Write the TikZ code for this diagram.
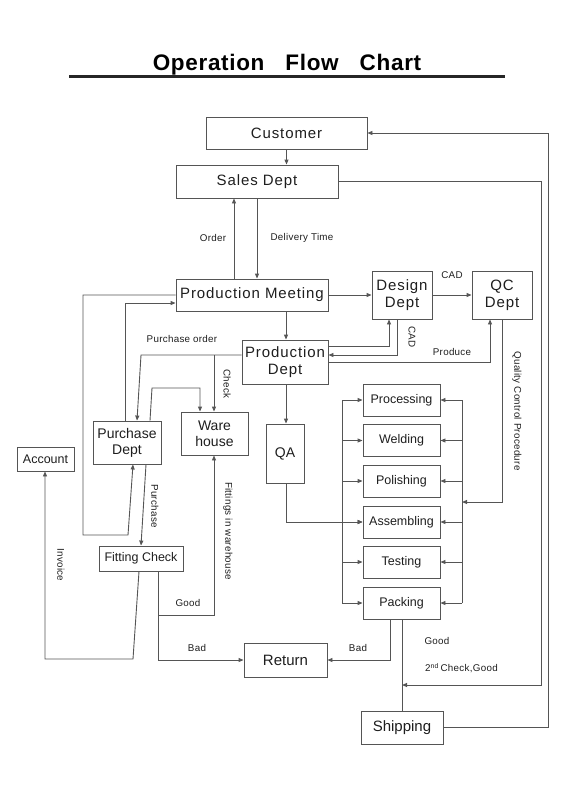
\documentclass[tikz,border=0pt]{standalone}
\usepackage{fontspec}
\setmainfont{Liberation Sans}
\newfontfamily\wideA{Liberation Sans}[LetterSpace=6]
\newfontfamily\wideB{Liberation Sans}[LetterSpace=3]
\usetikzlibrary{arrows.meta}
\definecolor{ln}{HTML}{555555}
\definecolor{tx}{HTML}{1E1E1E}
\tikzset{
  box/.style={draw=ln, line width=0.9pt, inner sep=0pt, align=center, text=tx, font=\fontsize{15}{16}\selectfont},
  wbox/.style={box, font=\wideA\fontsize{15}{17}\selectfont},
  sbox/.style={box, font=\fontsize{12.5}{14}\selectfont},
  conn/.style={draw=ln, line width=0.9pt},
  arr/.style={conn, -{Triangle[length=5pt,width=4pt]}},
  lbl/.style={text=tx, inner sep=0pt, font=\wideB\fontsize{9.8}{11}\selectfont},
}
\begin{document}
\begin{tikzpicture}[x=1pt,y=-1pt]
\useasboundingbox (0,0) rectangle (566,800);
% title
\node[inner sep=0pt, anchor=base, font=\wideB\fontsize{22.5}{25}\selectfont\bfseries] (title) at (287,70.5) {Operation\hspace{21pt}Flow\hspace{21pt}Chart};
\draw[line width=2.2pt, black!85] (69,76.5) -- (505,76.5);
% boxes
\node[wbox, minimum width=161, minimum height=32] (cust) at (286.5,133) {Customer};
\node[wbox, minimum width=162, minimum height=33] (sales) at (257,181.5) {Sales Dept};
\node[wbox, minimum width=152, minimum height=32] (pm) at (252,295) {Production Meeting};
\node[wbox, minimum width=60, minimum height=48] (design) at (402,295) {Design\\Dept};
\node[wbox, minimum width=60, minimum height=48] (qc) at (502,295) {QC\\Dept};
\node[wbox, minimum width=86, minimum height=44] (prod) at (285,362) {Production\\Dept};
\node[box, minimum width=68, minimum height=43, font=\fontsize{14}{16}\selectfont] (purch) at (127,442.5) {Purchase\\Dept};
\node[box, minimum width=67, minimum height=43, font=\fontsize{14}{16}\selectfont] (ware) at (214.5,433.5) {Ware\\house};
\node[box, minimum width=38, minimum height=59, font=\fontsize{14}{16}\selectfont] (qa) at (285,453.5) {QA};
\node[sbox, minimum width=57, minimum height=24] (acct) at (45.5,459) {Account};
\node[sbox, minimum width=84, minimum height=25] (fit) at (141,558.5) {Fitting Check};
\node[sbox, minimum width=77, minimum height=32] (proc) at (401.5,400) {Processing};
\node[sbox, minimum width=77, minimum height=32] (weld) at (401.5,440.5) {Welding};
\node[sbox, minimum width=77, minimum height=32] (pol) at (401.5,481) {Polishing};
\node[sbox, minimum width=77, minimum height=32] (assem) at (401.5,522) {Assembling};
\node[sbox, minimum width=77, minimum height=32] (test) at (401.5,562) {Testing};
\node[sbox, minimum width=77, minimum height=32] (pack) at (401.5,603) {Packing};
\node[box, minimum width=83, minimum height=34] (ret) at (285.5,660) {Return};
\node[box, minimum width=82, minimum height=33] (ship) at (402,727.5) {Shipping};
% connectors
\draw[arr] (cust.south) -- (sales.north -| cust.south);
\draw[arr] (pm.north -| 234,0) -- (sales.south -| 234,0);
\draw[arr] (sales.south -| 257,0) -- (pm.north -| 257,0);
\coordinate (c2nd) at (402,685);
\draw[arr] (sales.east) -- (541,181.5) -- (541,685) -- (c2nd);
\draw[arr] (ship.east) -- (548,727.5) -- (548,133) -- (cust.east);
\draw[arr] (pm.west) -- (83,295) -- (83,535) -- (128,535) -- (purch.south -| 133,0);
\draw[arr] (purch.north -| 125,0) -- (125,303) -- (pm.west |- 0,303);
\draw[arr] (pm.east) -- (design.west);
\draw[arr] (pm.south -| 286,0) -- (prod.north -| 286,0);
\draw[arr] (design.east) -- (qc.west);
\draw[arr] (prod.east |- 0,346) -- (389,346) -- (design.south -| 389,0);
\draw[arr] (design.south -| 397,0) -- (397,355) -- (prod.east |- 0,355);
\draw[arr] (prod.east |- 0,362) -- (490,362) -- (qc.south -| 490,0);
\draw[arr] (qc.south -| 502,0) -- (502,502) -- (462,502);
% buses
\draw[conn] (462,400) -- (462,603);
\draw[conn] (342,400) -- (342,603);
\foreach \b in {proc,weld,pol,assem,test,pack}{
  \draw[arr] (\b.east -| 462,0) -- (\b.east);
  \draw[arr] (\b.west -| 342,0) -- (\b.west);
}
\draw[arr] (prod.south -| 286,0) -- (qa.north -| 286,0);
\draw[arr] (qa.south -| 286,0) -- (286,522) -- (assem.west);
\draw[arr] (prod.west |- 0,355) -- (141,355) -- (purch.north -| 137,0);
\coordinate (cchk) at (214,355);
\draw[arr] (cchk) -- (ware.north -| 214,0);
\draw[arr] (purch.north -| 150,0) -- (152,388) -- (200,388) -- (ware.north -| 200,0);
\draw[arr] (purch.south -| 146,0) -- (fit.north -| 141,0);
\draw[arr] (fit.south -| 139,0) -- (133,659) -- (45,659) -- (acct.south -| 45,0);
\draw[arr] (fit.south -| 158,0) -- (158,615) -- (214,615) -- (ware.south -| 214,0);
\draw[arr] (158,615) -- (158,660) -- (ret.west);
\draw[arr] (pack.south -| 390,0) -- (390,660) -- (ret.east);
\draw[conn] (pack.south -| 402,0) -- (ship.north -| 402,0);
% labels
\node[lbl] (lorder) at (213,238) {Order};
\node[lbl] (ldel) at (302,238) {Delivery Time};
\node[lbl] (lcad1) at (452,275) {CAD};
\node[lbl, rotate=-90] (lcad2) at (412,337) {CAD};
\node[lbl] (lprodu) at (452,352) {Produce};
\node[lbl, rotate=-90] (lqcp) at (517,411) {Quality Control Procedure};
\node[lbl] (lpo) at (182,339) {Purchase order};
\node[lbl, rotate=-90] (lchk) at (227,384) {Check};
\node[lbl, rotate=-90] (lpur) at (155,506) {Purchase};
\node[lbl, rotate=-90] (lfiw) at (228,531) {Fittings in warehouse};
\node[lbl, rotate=-90] (linv) at (61,565) {Invoice};
\node[lbl] (lgood1) at (188,603) {Good};
\node[lbl] (lbad1) at (197,648) {Bad};
\node[lbl] (lbad2) at (358,648) {Bad};
\node[lbl] (lgood2) at (437,641) {Good};
\node[lbl, anchor=west] (l2nd) at (425,668) {2\textsuperscript{nd}\,Check,Good};
\end{tikzpicture}
\end{document}
